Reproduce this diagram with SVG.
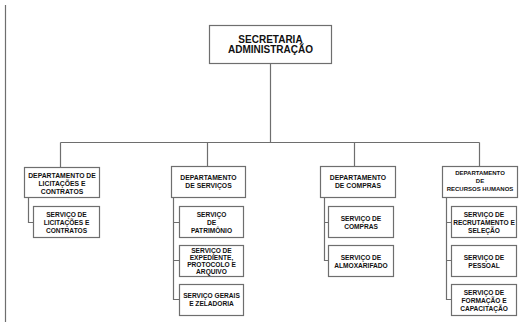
<svg xmlns="http://www.w3.org/2000/svg" width="531" height="329" viewBox="0 0 531 329">
<style>
.box{fill:#fff;stroke:#6e6e6e;stroke-width:1.2}
.ln{fill:none;stroke:#6e6e6e;stroke-width:1.2}
text{font-family:"Liberation Sans",Arial,sans-serif;font-weight:bold;fill:#111;text-anchor:middle}
.t{font-size:10px}
.d{font-size:6.8px}
.s{font-size:6.6px}
.r{font-size:6px}
</style>
<rect width="531" height="329" fill="#fff"/>
<g id="connectors">
<line class="ln" x1="5.5" y1="5" x2="5.5" y2="322"/>
<path class="ln" d="M270.5 63 V142.5 M60.5 142.5 H479.5 M60.5 142.5 V167 M207.5 142.5 V166 M354.5 142.5 V166 M479.5 142.5 V166"/>
<path class="ln" d="M28.5 197 V222.5 H33"/>
<path class="ln" d="M173.5 197 V299.5 H179 M173.5 222.5 H179 M173.5 260.5 H179"/>
<path class="ln" d="M324.5 197 V260.5 H328 M324.5 222.5 H328"/>
<path class="ln" d="M446.5 198 V299.5 H451 M446.5 222.5 H451 M446.5 260.5 H451"/>
</g>
<g id="secretaria"><rect class="box" x="209.5" y="25.5" width="122" height="38"/>
<text class="t" x="270.5" y="43">SECRETARIA</text><text class="t" x="270.5" y="53">ADMINISTRAÇÃO</text></g>
<g id="dep-licitacoes"><rect class="box" x="24.5" y="167.5" width="75" height="30"/>
<text class="d" x="62" y="178">DEPARTAMENTO DE</text><text class="d" x="62" y="186">LICITAÇÕES E</text><text class="d" x="62" y="194">CONTRATOS</text></g>
<g id="srv-licitacoes"><rect class="box" x="33.5" y="206.5" width="66" height="31"/>
<text class="s" x="66.5" y="217">SERVIÇO DE</text><text class="s" x="66.5" y="225">LICITAÇÕES E</text><text class="s" x="66.5" y="233">CONTRATOS</text></g>
<g id="dep-servicos"><rect class="box" x="171.5" y="166.5" width="74" height="31"/>
<text class="d" x="208.5" y="180">DEPARTAMENTO</text><text class="d" x="208.5" y="188">DE SERVIÇOS</text></g>
<g id="srv-patrimonio"><rect class="box" x="179.5" y="206.5" width="64" height="31"/>
<text class="s" x="211.5" y="217">SERVIÇO</text><text class="s" x="211.5" y="225">DE</text><text class="s" x="211.5" y="233">PATRIMÔNIO</text></g>
<g id="srv-expediente"><rect class="box" x="179.5" y="245.5" width="64" height="31"/>
<text class="s" x="211.5" y="253">SERVIÇO DE</text><text class="s" x="211.5" y="260">EXPEDIENTE,</text><text class="s" x="211.5" y="267">PROTOCOLO E</text><text class="s" x="211.5" y="274">ARQUIVO</text></g>
<g id="srv-gerais"><rect class="box" x="179.5" y="284.5" width="64" height="31"/>
<text class="s" x="211.5" y="298">SERVIÇO GERAIS</text><text class="s" x="211.5" y="306">E ZELADORIA</text></g>
<g id="dep-compras"><rect class="box" x="320.5" y="166.5" width="75" height="31"/>
<text class="d" x="358" y="180">DEPARTAMENTO</text><text class="d" x="358" y="188">DE COMPRAS</text></g>
<g id="srv-compras"><rect class="box" x="328.5" y="206.5" width="65" height="31"/>
<text class="s" x="361" y="221">SERVIÇO DE</text><text class="s" x="361" y="229">COMPRAS</text></g>
<g id="srv-almox"><rect class="box" x="328.5" y="245.5" width="65" height="31"/>
<text class="s" x="361" y="260">SERVIÇO DE</text><text class="s" x="361" y="268">ALMOXARIFADO</text></g>
<g id="dep-rh"><rect class="box" x="442.5" y="166.5" width="75" height="31"/>
<text class="r" x="480" y="175">DEPARTAMENTO</text><text class="r" x="480" y="183">DE</text><text class="r" x="480" y="191">RECURSOS HUMANOS</text></g>
<g id="srv-recrutamento"><rect class="box" x="451.5" y="206.5" width="65" height="31"/>
<text class="s" x="484" y="217">SERVIÇO DE</text><text class="s" x="484" y="225">RECRUTAMENTO E</text><text class="s" x="484" y="233">SELEÇÃO</text></g>
<g id="srv-pessoal"><rect class="box" x="451.5" y="245.5" width="65" height="31"/>
<text class="s" x="484" y="260">SERVIÇO DE</text><text class="s" x="484" y="268">PESSOAL</text></g>
<g id="srv-formacao"><rect class="box" x="451.5" y="284.5" width="65" height="31"/>
<text class="s" x="484" y="295">SERVIÇO DE</text><text class="s" x="484" y="303">FORMAÇÃO E</text><text class="s" x="484" y="311">CAPACITAÇÃO</text></g>
</svg>
